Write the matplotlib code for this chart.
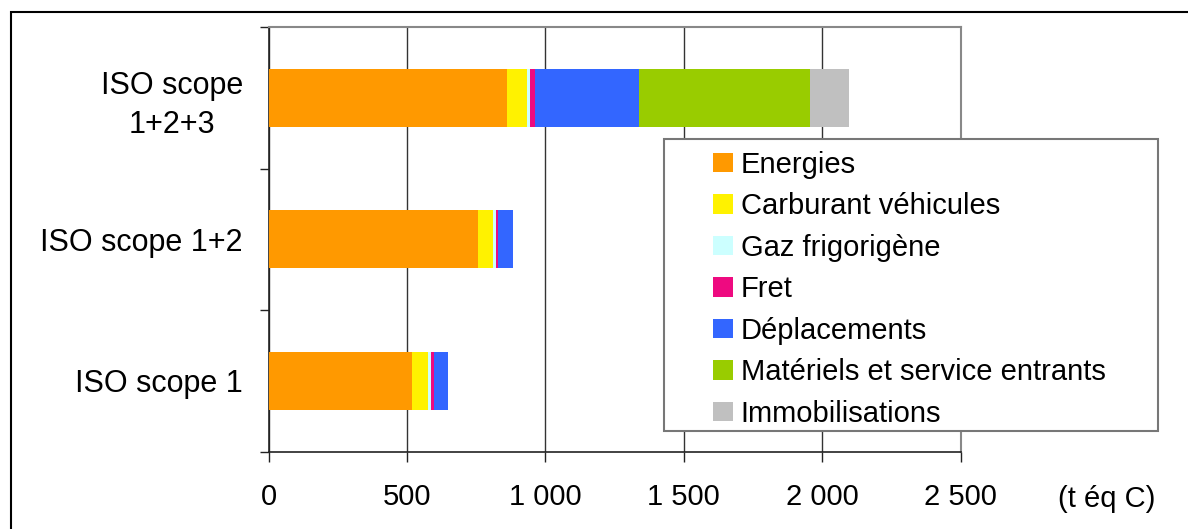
import matplotlib.pyplot as plt
from matplotlib.patches import Rectangle

plt.rcParams['font.family'] = ['Liberation Sans', 'DejaVu Sans']

categories = ['ISO scope 1', 'ISO scope 1+2', 'ISO scope\n1+2+3']
postes = ['Energies', 'Carburant véhicules', 'Gaz frigorigène', 'Fret',
          'Déplacements', 'Matériels et service entrants', 'Immobilisations']
couleurs = ['#FF9900', '#FFF200', '#CCFFFF', '#EE0A80',
            '#3366FF', '#99CC00', '#C0C0C0']

# t eq C par poste, pour chaque perimetre (scope 1, 1+2, 1+2+3)
energies = [518, 757, 862]
carburant = [58, 54, 73]
gaz = [11, 10, 10]
fret = [9, 8, 18]
deplacements = [53, 55, 376]
materiels = [0, 0, 616]
immobilisations = [0, 0, 143]
series = [energies, carburant, gaz, fret, deplacements, materiels, immobilisations]

xticks = [0, 500, 1000, 1500, 2000, 2500]
xlabels = ['0', '500', '1 000', '1 500', '2 000', '2 500']

W, H = 1188, 529
fig = plt.figure(figsize=(W / 100, H / 100), dpi=100)
ax = fig.add_axes([268.6 / W, 1 - 451.7 / H, (960.7 - 268.6) / W, (451.7 - 27) / H])

y = range(len(categories))
left = [0] * len(categories)
handles = []
for nom, vals, c in zip(postes, series, couleurs):
    b = ax.barh(y, vals, left=left, height=0.41, color=c, label=nom, zorder=3)
    handles.append(b)
    left = [l + v for l, v in zip(left, vals)]

ax.set_xlim(0, 2500)
ax.set_ylim(-0.5, 2.5)
ax.set_xticks(xticks)
ax.set_xticklabels(xlabels, fontsize=21)
ax.set_yticks(list(y))
ax.set_yticklabels(categories, fontsize=22, multialignment='center', linespacing=1.4)
ax.set_yticks([-0.5, 0.5, 1.5, 2.5], minor=True)
ax.tick_params(axis='y', which='major', length=0, pad=18.5)
ax.tick_params(axis='y', which='minor', length=6.5, width=1, color='#222')
ax.tick_params(axis='x', length=7.2, width=1, color='#222', pad=15)
ax.grid(axis='x', color='#333', lw=1.0, zorder=0)
ax.set_axisbelow(True)

for s in ['top', 'right']:
    ax.spines[s].set_color('#888')
    ax.spines[s].set_linewidth(1.5)
for s in ['left', 'bottom']:
    ax.spines[s].set_color('#222')
    ax.spines[s].set_linewidth(1.2)

fig.text(1106.5 / W, 1 - 507 / H, '(t éq C)', fontsize=21, ha='center', va='baseline')

# cadre de la legende et du graphique
fig.patches.append(Rectangle((664 / W, 1 - 431 / H), (1158 - 664) / W, (431 - 139.3) / H,
                             transform=fig.transFigure, facecolor='white',
                             edgecolor='#777', lw=1.5, zorder=4))
fig.patches.append(Rectangle((10.7 / W, -0.05), 1.1, 1 - 11.7 / H + 0.05,
                             transform=fig.transFigure, fill=False,
                             edgecolor='black', lw=1.5, zorder=4))

fig.legend(handles=handles, loc='upper left', bbox_to_anchor=(712.7 / W, 1 - 151 / H),
           bbox_transform=fig.transFigure, frameon=False, fontsize=21,
           borderpad=0, borderaxespad=0, handlelength=0.685, handleheight=0.65,
           handletextpad=0.28, labelspacing=0.46).set_zorder(5)

fig.savefig('out.png', dpi=100)
